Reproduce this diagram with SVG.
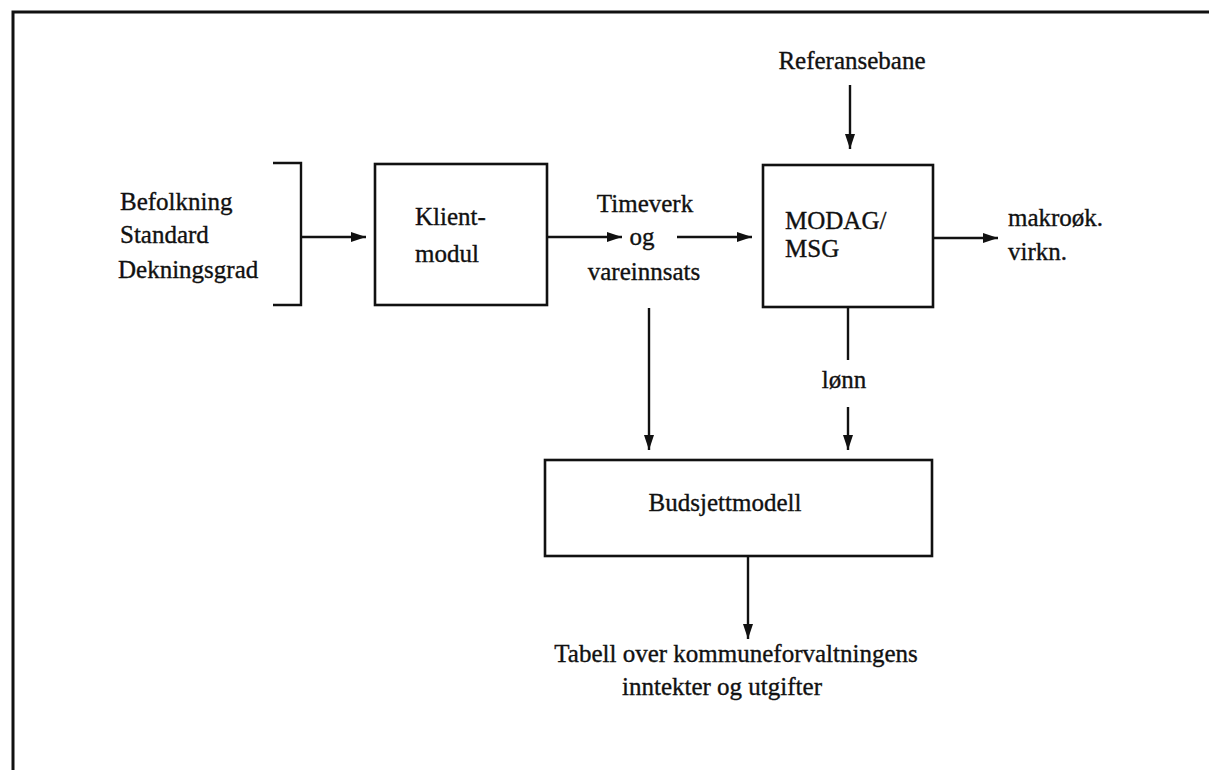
<svg xmlns="http://www.w3.org/2000/svg" width="1209" height="770" viewBox="0 0 1209 770">
<style>
text{font-family:"Liberation Serif","Times New Roman",serif;font-size:25px;fill:#111;stroke:#111;stroke-width:0.35}
.ln{stroke:#111;stroke-width:2.4;fill:none}
.box{stroke:#111;stroke-width:2.6;fill:#fff}
.fr{stroke:#111;stroke-width:3;fill:none}
</style>
<defs>
<marker id="ah" viewBox="0 0 15 10" refX="15" refY="5" markerWidth="15" markerHeight="10" markerUnits="userSpaceOnUse" orient="auto">
<path d="M0,0 L15,5 L0,10 Z" fill="#111"/>
</marker>
</defs>
<rect width="1209" height="770" fill="#fff"/>
<path class="fr" d="M13,770 V12 H1209"/>
<g id="inputs">
<text x="120" y="210">Befolkning</text>
<text x="120" y="243">Standard</text>
<text x="118" y="278">Dekningsgrad</text>
<path class="ln" d="M273,163 H301 V305 H273"/>
</g>
<g id="klient">
<rect class="box" x="375" y="164" width="172" height="141"/>
<text x="415" y="225">Klient-</text>
<text x="415" y="262">modul</text>
</g>
<g id="timeverk">
<text x="645" y="212" text-anchor="middle">Timeverk</text>
<text x="642" y="245" text-anchor="middle">og</text>
<text x="644" y="280" text-anchor="middle">vareinnsats</text>
</g>
<g id="referansebane">
<text x="852" y="69" text-anchor="middle">Referansebane</text>
</g>
<g id="modag">
<rect class="box" x="763" y="165" width="170" height="142"/>
<text x="785" y="229">MODAG/</text>
<text x="785" y="257">MSG</text>
</g>
<g id="makro">
<text x="1008" y="226">makroøk.</text>
<text x="1008" y="260">virkn.</text>
</g>
<g id="lonn">
<text x="844" y="388" text-anchor="middle">lønn</text>
</g>
<g id="budsjett">
<rect class="box" x="545" y="460" width="387" height="96"/>
<text x="725" y="511" text-anchor="middle">Budsjettmodell</text>
</g>
<g id="tabell">
<text x="736" y="662" text-anchor="middle">Tabell over kommuneforvaltningens</text>
<text x="722" y="695" text-anchor="middle">inntekter og utgifter</text>
</g>
<g id="connectors">
<path class="ln" d="M301,237 H366" marker-end="url(#ah)"/>
<path class="ln" d="M547,237 H622" marker-end="url(#ah)"/>
<path class="ln" d="M677,237 H752" marker-end="url(#ah)"/>
<path class="ln" d="M850,85 V149" marker-end="url(#ah)"/>
<path class="ln" d="M933,238 H998" marker-end="url(#ah)"/>
<path class="ln" d="M649,308 V450" marker-end="url(#ah)"/>
<path class="ln" d="M848,307 V360"/>
<path class="ln" d="M848,407 V450" marker-end="url(#ah)"/>
<path class="ln" d="M748,556 V639" marker-end="url(#ah)"/>
</g>
</svg>
